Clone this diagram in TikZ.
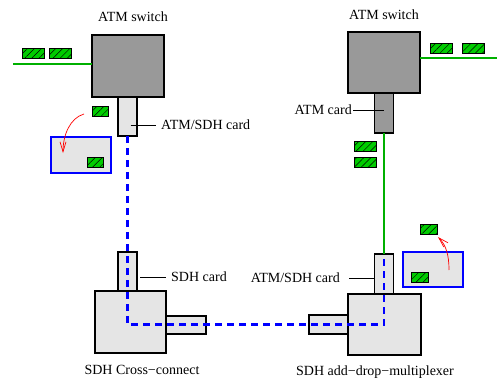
\documentclass[tikz,border=0pt]{standalone}
\usepackage{fontspec}
\setmainfont{Liberation Serif}
\usetikzlibrary{arrows.meta,patterns.meta}
\definecolor{darkbox}{RGB}{153,153,153}
\definecolor{lightbox}{RGB}{229,229,229}
\definecolor{cellgreen}{RGB}{0,204,0}
\definecolor{linegreen}{RGB}{0,176,0}
\definecolor{dashblue}{RGB}{0,0,255}
\tikzset{
  dbox/.style={draw=black, line width=1.1pt, fill=darkbox, inner sep=0, outer sep=0},
  lbox/.style={draw=black, line width=1.1pt, fill=lightbox, inner sep=0, outer sep=0},
  bbox/.style={draw=dashblue, line width=1.3pt, fill=lightbox, inner sep=0, outer sep=0},
  cell/.style={draw=black, line width=0.6pt, fill=cellgreen, inner sep=0,
    minimum width=21pt, minimum height=10pt,
    postaction={pattern={Lines[angle=45,distance=5pt,line width=0.5pt]}, pattern color=black}},
  scell/.style={cell, minimum width=16pt},
  lbl/.style={font=\fontsize{14}{16}\selectfont, inner sep=0},
  leader/.style={draw=black, line width=0.7pt},
  gline/.style={draw=linegreen, line width=2.1pt},
  bline/.style={draw=dashblue, line width=2.6pt, dash pattern=on 7pt off 5pt},
  rarrow/.style={draw=red, line width=0.7pt, -{Straight Barb[length=10pt,width=6pt]}}
}
\begin{document}
\begin{tikzpicture}[x=1pt,y=-1pt]
\useasboundingbox (0,0) rectangle (497,380);
% titles
\node[lbl] (t1) at (133,17) {ATM switch};
\node[lbl] (t2) at (384,15) {ATM switch};
\node[lbl] (t3) at (142,370) {SDH Cross\char"2212 connect};
\node[lbl] (t4) at (375,372) {SDH add\char"2212 drop\char"2212 multiplexer};
% left ATM switch
\node[dbox, minimum width=72pt, minimum height=62pt] (lsw) at (128,66) {};
\node[lbox, minimum width=19pt, minimum height=39pt] (lcard) at (127.5,116.5) {};
% right ATM switch
\node[dbox, minimum width=72pt, minimum height=61pt] (rsw) at (384,62.5) {};
\node[dbox, minimum width=19pt, minimum height=40pt] (rcard) at (384,113) {};
% SDH cross-connect
\node[lbox, minimum width=19pt, minimum height=39pt] (xup) at (127.5,271.5) {};
\node[lbox, minimum width=40pt, minimum height=18pt] (xright) at (186,325) {};
\node[lbox, minimum width=71pt, minimum height=62pt] (xc) at (130.5,322) {};
% SDH ADM
\node[lbox, minimum width=19pt, minimum height=40pt] (aup) at (384,274) {};
\node[lbox, minimum width=39pt, minimum height=19pt] (aleft) at (328.5,324.5) {};
\node[lbox, minimum width=73pt, minimum height=61pt] (adm) at (384.5,324.5) {};
% blue boxes
\node[bbox, minimum width=60pt, minimum height=36pt] (lbb) at (81,155) {};
\node[bbox, minimum width=60pt, minimum height=35pt] (rbb) at (433,269.5) {};
% green lines
\coordinate (lg) at (13,64);
\coordinate (rg) at (497,58);
\draw[gline] (lg) -- (lg -| lsw.west);
\draw[gline] (rsw.east |- rg) -- (rg);
\draw[gline] (rcard.south) -- (aup.north);
% blue dashed path
\coordinate (b1) at (127.5,324.5);
\coordinate (b2) at (384,324.5);
\draw[bline] (lcard.south) -- (b1) -- (b2) -- (aup.north);
% cells
\node[cell, minimum width=22pt] (c1) at (33.5,53.5) {};
\node[cell, minimum width=22pt] (c2) at (60,53.5) {};
\node[scell] (c3) at (100,111) {};
\node[scell] (c4) at (95,162) {};
\node[cell, minimum width=22pt] (c5) at (441,48) {};
\node[cell, minimum width=22pt] (c6) at (473,48) {};
\node[cell, minimum width=22pt] (c7) at (365,146) {};
\node[cell, minimum width=22pt] (c8) at (365,162) {};
\node[scell, minimum width=17pt] (c9) at (419.5,277.5) {};
\node[scell, minimum width=17pt] (c10) at (428.5,229) {};
% red arrows
\coordinate (ra1) at (84,114);
\coordinate (ra2) at (63,153);
\draw[rarrow] (ra1) .. controls (70,118) and (63,135) .. (ra2);
\coordinate (ra3) at (449,270);
\coordinate (ra4) at (438,237);
\draw[rarrow] (ra3) .. controls (449,255) and (446,245) .. (ra4);
% labels and leaders
\node[lbl, anchor=west] (l1) at (161,125) {ATM/SDH card};
\draw[leader] ([xshift=3pt]lcard.center |- l1.west) -- ([xshift=-5pt]l1.west);
\node[lbl, anchor=east] (l2) at (352,110) {ATM card};
\draw[leader] ([xshift=1pt]l2.east) -- (rcard.center |- l2.east);
\node[lbl, anchor=west] (l3) at (171,277) {SDH card};
\draw[leader] ([xshift=3pt]xup.east |- l3.west) -- ([xshift=-5pt]l3.west);
\node[lbl, anchor=east] (l4) at (340,278) {ATM/SDH card};
\draw[leader] ([xshift=9pt]l4.east) -- (aup.west |- l4.east);
\end{tikzpicture}
\end{document}
